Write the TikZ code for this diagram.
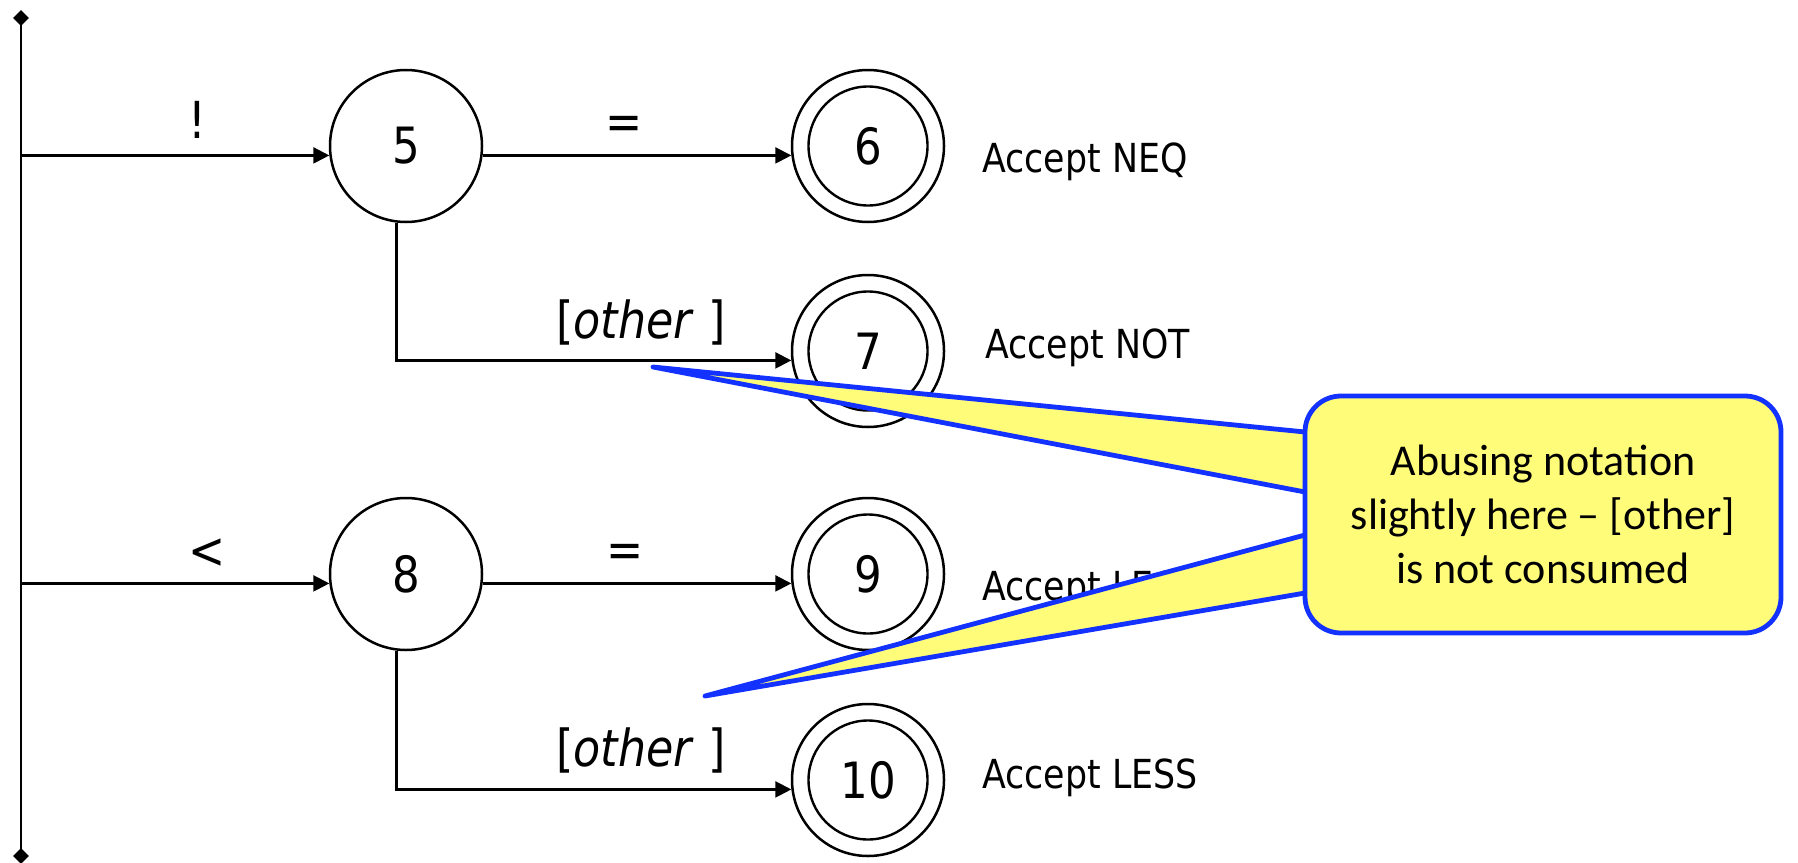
\documentclass[tikz,border=0pt]{standalone}
\usepackage{fontspec}
\setmainfont{DejaVu Sans}[FakeStretch=0.87]
\newfontfamily\notefont{Carlito}[Ligatures=TeX]
\usetikzlibrary{arrows.meta,shapes.geometric,calc}
\definecolor{calloutblue}{RGB}{20,50,255}
\definecolor{calloutyellow}{RGB}{255,252,122}
\tikzset{
  state/.style={circle, draw, line width=1.25pt, minimum size=76pt, inner sep=0pt,
    font=\fontsize{25}{30}\selectfont},
  inner/.style={circle, draw, line width=1.2pt, minimum size=59.5pt, inner sep=0pt,
    font=\fontsize{25}{30}\selectfont},
  arr/.style={-{Triangle[length=8pt,width=8pt]}, line width=1.1pt},
  conn/.style={line width=1.2pt},
  edgelabel/.style={anchor=base, inner sep=0pt, font=\fontsize{25.5}{30}\selectfont},
  accept/.style={anchor=base west, inner sep=0pt, font=\fontsize{20}{24}\selectfont},
  endmark/.style={diamond, fill=black, inner sep=0pt, minimum width=8pt, minimum height=8pt},
  notebox/.style={rectangle, rounded corners=18pt, draw=calloutblue, fill=calloutyellow,
    line width=2.4pt, minimum width=238pt, minimum height=118.5pt, inner sep=0pt,
    align=center, font=\notefont\fontsize{22}{27}\selectfont},
  wedge/.style={draw=calloutblue, fill=calloutyellow, line width=2.4pt, line join=round, line cap=round}
}
\begin{document}
\begin{tikzpicture}[x=0.5pt, y=-0.5pt]
\useasboundingbox (0,0) rectangle (1798,862);
% spine
\coordinate (dtop) at (21,18);
\coordinate (dbot) at (21,856);
\draw[conn] (dtop) -- (dbot);
\node[endmark] (mtop) at (dtop) {};
\node[endmark] (mbot) at (dbot) {};
% states
\node[state] (s5) at (406,146) {5};
\node[state] (s6) at (868,146) {};
\node[inner] (s6i) at (868,146) {6};
\node[state] (s7) at (868,351) {};
\node[inner] (s7i) at (868,351) {7};
\node[state] (s8) at (406,574) {8};
\node[state] (s9) at (868,574) {};
\node[inner] (s9i) at (868,574) {9};
\node[state] (s10) at (868,780) {};
\node[inner] (s10i) at (868,780) {10};
% connectors
\draw[arr] (s5.187 -| dtop) -- (s5.187);
\draw[arr] (s5.-7) -- (s6.187);
\draw[arr] (s5.263) -- (s5.263 |- s7.187) -- (s7.187);
\draw[arr] (s8.187 -| dtop) -- (s8.187);
\draw[arr] (s8.-7) -- (s9.187);
\draw[arr] (s8.263) -- (s8.263 |- s10.187) -- (s10.187);
% edge labels
\node[edgelabel] (l1) at (197,138) {!};
\node[edgelabel] (l2) at (624,139) {=};
\node[edgelabel] (l3) at (641,338) {[\textit{other} ]};
\node[edgelabel] (l4) at (207,568) {<};
\node[edgelabel] (l5) at (625,567) {=};
\node[edgelabel] (l6) at (641,766) {[\textit{other} ]};
% accept labels
\node[accept] (a6) at (982,172) {Accept NEQ};
\node[accept] (a7) at (985,358) {Accept NOT};
\node[accept] (a9) at (982,600) {Accept LEQ};
\node[accept] (a10) at (982,788) {Accept LESS};
% callout
\coordinate (tipA) at (653,367);
\coordinate (tipB) at (705,696);
\coordinate (notec) at (1543,514.5);
\path[wedge] ($(notec)+(-238,-82.5)$) -- (tipA) -- ($(notec)+(-238,-22.5)$);
\path[wedge] ($(notec)+(-238,20.5)$) -- (tipB) -- ($(notec)+(-238,78.5)$);
\node[notebox] (note) at (notec) {Abusing notation\\slightly here – [other]\\is not consumed};
\end{tikzpicture}
\end{document}
